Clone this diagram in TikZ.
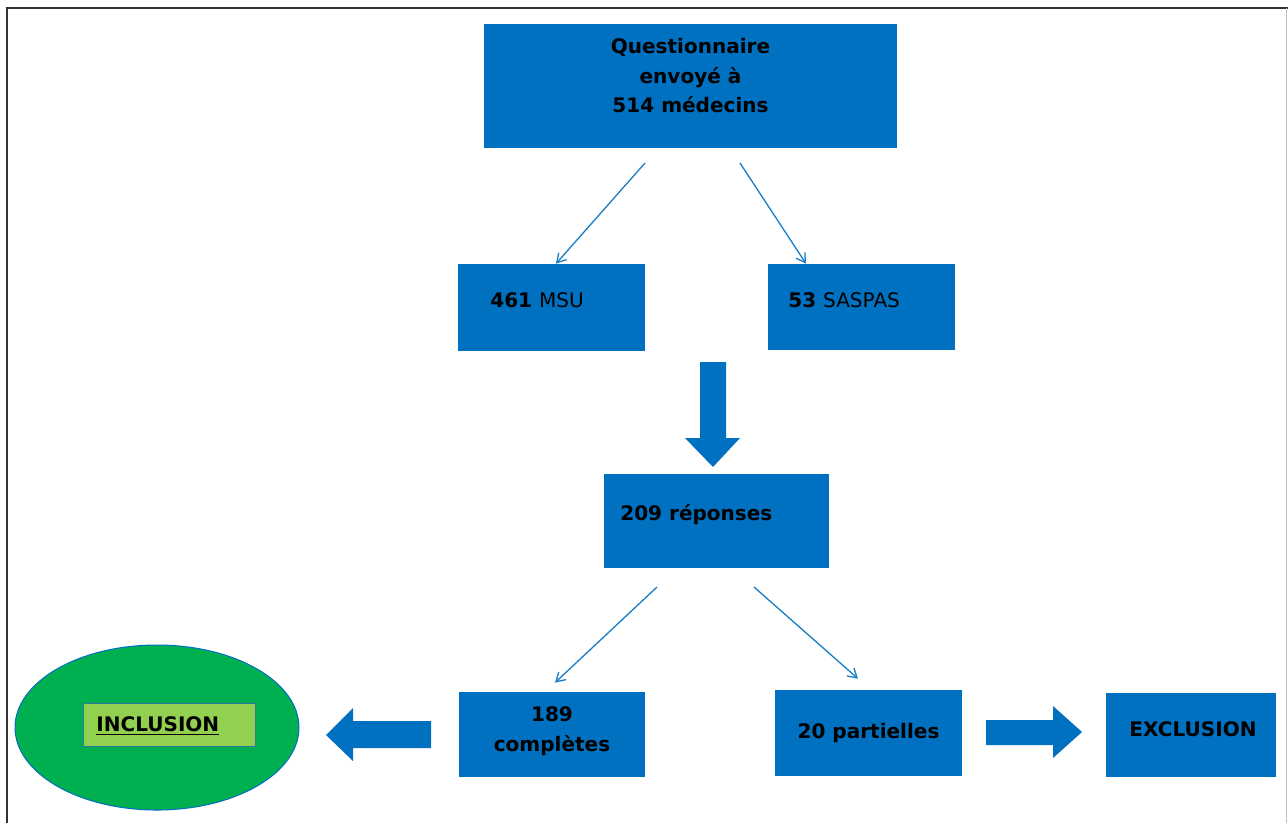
\documentclass[tikz,border=0pt]{standalone}
\usepackage{fontspec}
\setmainfont{DejaVu Sans}
\usetikzlibrary{arrows.meta,
                calc,
                positioning,
                shapes.geometric}
\definecolor{boxblue}{RGB}{0,112,192}
\definecolor{incgreen}{RGB}{0,176,80}
\definecolor{inclight}{RGB}{146,208,80}

\begin{document}
\begin{tikzpicture}[
x=0.02cm, y=-0.02cm,
bluebox/.style = {rectangle, fill=boxblue, inner sep=0pt},
txt/.style = {font=\fontsize{11.4}{16.8}\selectfont\bfseries, text=black, inner sep=0pt, align=center},
thinarrow/.style = {draw=boxblue!90!white, line width=0.75pt, -{Straight Barb[length=5pt,width=6pt]}},
fatarrow/.style = {fill=boxblue}
                        ]
    \useasboundingbox (0,0) rectangle (1288,823);
    % frame
    \draw[line width=1.5pt, black!80] (7,823) -- (7,8) -- (1288,8);
    \draw[black!25] (1286.5,8) -- (1286.5,823);

    % boxes
    \node (quest)[bluebox, minimum width=8.26cm, minimum height=2.48cm] at (690.5,86) {};
    \node (msu)[bluebox, minimum width=3.74cm, minimum height=1.74cm] at (551.5,307.5) {};
    \node (saspas)[bluebox, minimum width=3.74cm, minimum height=1.72cm] at (861.5,307) {};
    \node (rep)[bluebox, minimum width=4.5cm, minimum height=1.88cm] at (716.5,521) {};
    \node (compl)[bluebox, minimum width=3.72cm, minimum height=1.70cm] at (552,734.5) {};
    \node (part)[bluebox, minimum width=3.74cm, minimum height=1.72cm] at (868.5,733) {};
    \node (excl)[bluebox, minimum width=3.40cm, minimum height=1.68cm] at (1191,735) {};
    \node (incl)[ellipse, draw=boxblue, fill=incgreen, line width=0.6pt,
                 minimum width=5.68cm, minimum height=3.30cm] at (157,727.5) {};
    \node (incl-in)[rectangle, draw=boxblue!60!gray, fill=inclight, line width=0.4pt,
                    minimum width=3.44cm, minimum height=0.86cm] at (169,724.5) {};

    % texts
    \node (quest-t)[txt] at (690.5,76) {Questionnaire\\ envoyé à\\ 514 médecins};
    \node (msu-t)[txt, anchor=west] at (490,300) {461 {\mdseries MSU}};
    \node (saspas-t)[txt, anchor=west] at (788,300) {53 {\mdseries SASPAS}};
    \node (rep-t)[txt, anchor=west] at (620,515) {209 réponses};
    \node (compl-t)[txt] at (552,731) {189\\ complètes};
    \node (part-t)[txt] at (868.5,733) {20 partielles};
    \node (excl-t)[txt] at (1193,729) {EXCLUSION};
    \node (incl-t)[txt, anchor=west] at (96,726) {\underline{INCLUSION}};

    % thin connectors
    \coordinate (q-l) at (645,163);
    \coordinate (q-r) at (740,163);
    \coordinate (r-l) at (657,587);
    \coordinate (r-r) at (754,587);
    \draw[thinarrow] (q-l) -- ($(msu.north)+(4.5,0)$);
    \draw[thinarrow] (q-r) -- ($(saspas.north)+(-55.5,0)$);
    \draw[thinarrow] (r-l) -- ($(compl.north)+(3,-9)$);
    \draw[thinarrow] (r-r) -- ($(part.north)+(-10.5,-11)$);

    % block arrows
    \fill[fatarrow] (700,362) -- (726,362) -- (726,438) -- (740,438)
                    -- (713,467) -- (685,438) -- (700,438) -- cycle;
    \fill[fatarrow] (431,721) -- (353,721) -- (353,708) -- (326,735)
                    -- (353,761) -- (353,748) -- (431,748) -- cycle;
    \fill[fatarrow] (986,720) -- (1053,720) -- (1053,706) -- (1082,732)
                    -- (1053,758) -- (1053,745) -- (986,745) -- cycle;
\end{tikzpicture}
\end{document}
